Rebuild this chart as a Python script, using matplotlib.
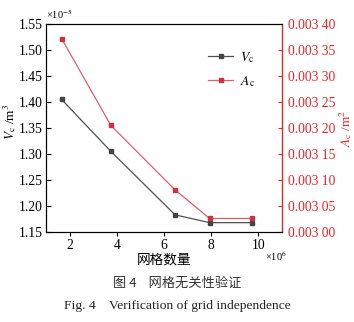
import matplotlib
matplotlib.use("Agg")
import matplotlib.pyplot as plt
from matplotlib.ticker import FuncFormatter

plt.rcParams['font.family'] = ['Liberation Serif', 'Noto Sans CJK SC']
plt.rcParams['mathtext.fontset'] = 'stix'

# grid count (x1e6), V_c (x1e-5 m^3), A_c (m^2)
grid_count = [1.66, 3.75, 6.47, 7.93, 9.74]
vc_values = [1.405, 1.305, 1.183, 1.168, 1.168]
ac_values = [0.003372, 0.003205, 0.003081, 0.003026, 0.003026]

left_ticks = [1.15, 1.20, 1.25, 1.30, 1.35, 1.40, 1.45, 1.50, 1.55]
right_ticks = [0.00300, 0.00305, 0.00310, 0.00315, 0.00320, 0.00325, 0.00330, 0.00335, 0.00340]
x_ticks = [2, 4, 6, 8, 10]

gray = "#505050"
red = "#e8262a"
red_line = "#d9606a"

fig = plt.figure(figsize=(3.54, 3.22), dpi=100)
ax = fig.add_axes([46 / 354, 1 - 232 / 322, 236 / 354, 208 / 322])
ax2 = ax.twinx()

l1, = ax.plot(grid_count, vc_values, color=gray, lw=0.9, marker="s", ms=3.5,
              mfc="#444444", mec="#444444", label="$V_\\mathrm{c}$")
l2, = ax2.plot(grid_count, ac_values, color=red_line, lw=0.9, marker="s", ms=3.5,
               mfc="#d03040", mec="#d03040", label="$A_\\mathrm{c}$")

ax.set_xlim(1, 11)
ax.set_ylim(1.15, 1.55)
ax2.set_ylim(0.0030, 0.0034)
ax.set_xticks(x_ticks)
ax.set_yticks(left_ticks)
ax2.set_yticks(right_ticks)
ax.yaxis.set_major_formatter(FuncFormatter(lambda v, p: f"{v:.2f}"))
ax2.yaxis.set_major_formatter(
    FuncFormatter(lambda v, p: f"{v:.5f}"[:5] + " " + f"{v:.5f}"[5:]))

fs = 9.8
ax.tick_params(axis="x", direction="out", length=3, width=0.8, labelsize=fs, pad=2)
ax.tick_params(axis="y", direction="in", length=3.5, width=0.8, labelsize=fs, pad=2.5)
ax2.tick_params(axis="y", direction="in", length=3, width=0.8, labelsize=fs,
                pad=4, colors=red)
ax2.spines["right"].set_color(red)
for sp in ["left", "bottom", "top"]:
    ax.spines[sp].set_linewidth(0.8)
ax2.spines["right"].set_linewidth(0.9)

ax.set_xlabel("网格数量", fontsize=fs, labelpad=1)
ax.set_ylabel("$V_\\mathrm{c}$ /m$^3$", fontsize=9.5)
ax.yaxis.set_label_coords(-0.12, 0.53)
ax2.set_ylabel("$A_\\mathrm{c}$ /m$^2$", fontsize=9.5, color=red)
ax2.yaxis.set_label_coords(1.235, 0.5)

ax.text(0.0, 1.015, "×10$^{-5}$", transform=ax.transAxes, fontsize=7.5,
        ha="left", va="bottom")
ax.text(1.02, -0.115, "×10$^{6}$", transform=ax.transAxes, fontsize=7.5,
        ha="right", va="center")

ax.legend(handles=[l1, l2], loc="upper left", bbox_to_anchor=(0.665, 0.90),
          frameon=False, fontsize=fs, handlelength=1.8, labelspacing=0.65,
          borderaxespad=0, handletextpad=0.5)

fig.text(0.5, 1 - 283 / 322, "图 4    网格无关性验证", ha="center",
         va="center", fontsize=9.5,
         family=['Noto Sans CJK SC', 'Liberation Serif'], color="#333333")
fig.text(0.5, 1 - 306 / 322, "Fig. 4    Verification of grid independence",
         ha="center", va="center", fontsize=9.7, color="#222222")

fig.savefig("out.png", dpi=100)
plt.close(fig)
